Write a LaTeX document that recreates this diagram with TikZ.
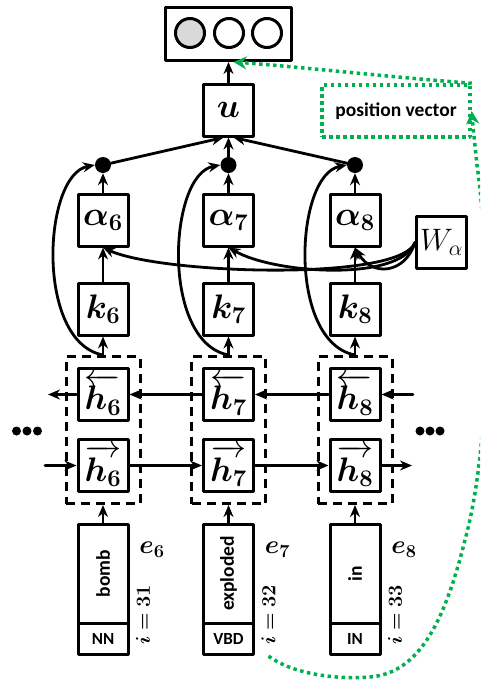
\RequirePackage{fix-cm}
\documentclass[tikz,border=0pt]{standalone}
\usepackage{amsmath}
\usepackage{fontspec}
\setmainfont{Carlito}
\usepackage{bm}
\usetikzlibrary{fit, arrows.meta}
\definecolor{posgreen}{RGB}{0,176,80}

\tikzset{
	cell/.style={draw, line width=3pt, minimum width=50pt, minimum height=52pt, inner sep=0pt, font=\fontsize{34}{40}\selectfont},
	wordbox/.style={draw, line width=3pt, minimum width=50pt, minimum height=99pt, inner sep=0pt, outer sep=0pt, font=\bfseries\fontsize{19.5}{22}\selectfont},
	tagbox/.style={draw, line width=3pt, minimum width=50pt, minimum height=31pt, inner sep=0pt, outer sep=0pt, font=\bfseries\fontsize{17}{20}\selectfont},
	group/.style={draw, line width=3pt, line cap=butt, dash pattern=on 9pt off 6pt, inner sep=10.5pt},
	joint/.style={circle, fill, inner sep=0pt, minimum size=16pt},
	outbox/.style={draw, line width=3pt, minimum width=126pt, minimum height=53pt},
	unit/.style={circle, draw, line width=3pt, inner sep=0pt, minimum size=29pt},
	conn/.style={-{Stealth[length=12pt, width=10pt]}, line width=2.8pt},
	greenconn/.style={-{Stealth[length=13pt, width=13pt]}, draw=posgreen, line width=3.5pt, line cap=butt, dash pattern=on 3.5pt off 3.5pt},
	posbox/.style={draw=posgreen, line width=3.5pt, line cap=butt, dash pattern=on 3.5pt off 3.5pt, minimum width=148pt, minimum height=52pt, font=\bfseries\fontsize{19.5}{22}\selectfont}
}

\begin{document}
\begin{tikzpicture}[x=1pt, y=-1pt, line cap=round, line join=round]
	
	\useasboundingbox (0,0) rectangle (480,681);
	
	% Output layer
	\node[outbox] (out) at (228.5,34) {};
	\node[unit, fill=gray!30] (c1) at (190,33) {};
	\node[unit] (c2) at (229,33) {};
	\node[unit] (c3) at (267,33) {};
	
	% Sentence vector
	\node[cell] (u) at (228.5,110) {$\bm{u}$};
	
	% Attention weight matrix
	\node[draw, line width=3pt, minimum width=50pt, minimum height=52pt, inner sep=0pt, font=\fontsize{31}{36}\selectfont] (W) at (441.5,242.5) {$W_{\alpha}$};
	
	% One column per word
	\foreach \i/\x/\word/\tag/\pos in {6/103/bomb/NN/31, 7/228.5/exploded/VBD/32, 8/355/in/IN/33} {
		\node[joint] (d\i) at (\x,165) {};
		\node[cell] (a\i) at (\x,220) {$\bm{\alpha_{\i}}$};
		\node[cell] (k\i) at (\x,309) {$\bm{k_{\i}}$};
		\node[cell] (hb\i) at (\x,394.5) {$\overleftarrow{\bm{h_{\i}}}$};
		\node[cell] (hf\i) at (\x,465.5) {$\overrightarrow{\bm{h_{\i}}}$};
		\node[group, fit=(hb\i)(hf\i)] (g\i) {};
		\node[wordbox] (w\i) at (\x,573.5) {\rotatebox{90}{\word}};
		\node[tagbox, anchor=north] (t\i) at (w\i.south) {\tag};
		\node[font=\fontsize{26}{30}\selectfont] (e\i) at ({\x+49},550) {$\bm{e_{\i}}$};
		\node[rotate=90, font=\fontsize{20}{24}\selectfont] (i\i) at ({\x+40},615) {$\bm{i=\pos}$};
		
		% Vertical flow
		\draw[conn] (w\i.north) -- (g\i.south);
		\draw[conn] (g\i.north) -- (k\i.south);
		\draw[conn] (k\i) -- (a\i);
		\draw[conn] (a\i) -- (d\i);
		
		% Skip connection to the product
		\draw[conn] (g\i.north) .. controls +(-68,-13) and +(-52,10) .. (d\i.west);
	}
	
	% Products into u
	\draw[conn] (d6) -- ([xshift=-5pt]u.south);
	\draw[conn] (d7) -- (u);
	\draw[conn] (d8) -- ([xshift=5pt]u.south);
	\draw[conn] (u) -- (out);
	
	% W_alpha into the attention scores
	\draw[conn] (W.west) .. controls (400,282) and (160,274) .. (a6.south);
	\draw[conn] (W.west) .. controls (400,282) and (275,274) .. (a7.south);
	\draw[conn] (W.west) .. controls (405,274) and (372,277) .. (a8.south);
	
	% Recurrent links
	\coordinate (bin) at (413,394.5);
	\coordinate (bout) at (48,394.5);
	\coordinate (fin) at (45,465.5);
	\coordinate (fout) at (412,465.5);
	\draw[conn] (bin) -- (hb8);
	\draw[conn] (hb8) -- (hb7);
	\draw[conn] (hb7) -- (hb6);
	\draw[conn] (hb6) -- (bout);
	\draw[conn] (fin) -- (hf6);
	\draw[conn] (hf6) -- (hf7);
	\draw[conn] (hf7) -- (hf8);
	\draw[conn] (hf8) -- (fout);
	
	% Ellipses
	\foreach \dx in {16.5, 27, 37.5, 420, 430, 440} {
		\fill (\dx,431) circle (4.5pt);
	}
	
	% Position vector
	\node[posbox] (pos) at (396,111) {position vector};
	\draw[greenconn] (pos.north east) .. controls (400,78) and (290,66) .. ([xshift=5pt]out.south);
	\begin{scope}
		\clip (0,0) rectangle (480,681);
		\draw[greenconn] ([yshift=-8pt]i7.west) .. controls (290,672) and (330,680) .. (370,677)
			.. controls (420,673) and (445,620) .. (465,540)
			.. controls (495,430) and (488,240) .. (477,165)
			.. controls (475,145) and (473,128) .. (pos.east);
	\end{scope}
	
\end{tikzpicture}
\end{document}
